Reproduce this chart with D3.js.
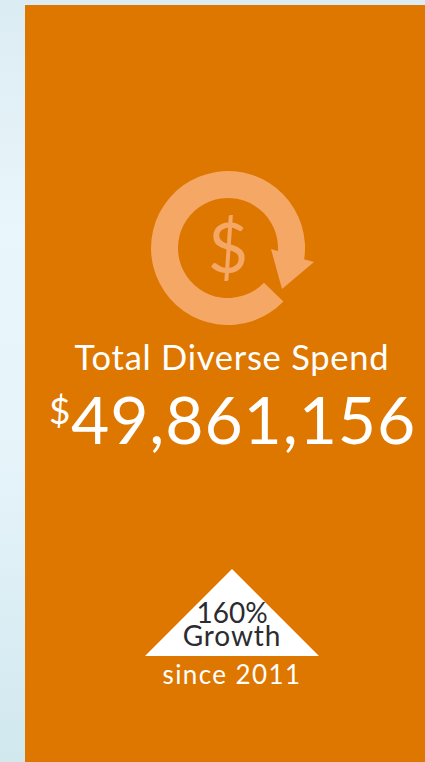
<!DOCTYPE html>
<meta charset="utf-8">
<style>
html, body { margin: 0; padding: 0; background: #e0f0f8; overflow: hidden; }
text { font-family: Lato, "Open Sans", sans-serif; }
</style>
<body>
<svg width="425" height="762"></svg>
<script src="https://d3js.org/d3.v7.min.js"></script>
<script>
var title = ["Total Diverse Spend"];
var totalSpend = [49861156];
var growthPercent = [160];
var growthLabels = ["Growth", "since 2011"];

var svg = d3.select("svg"),
    width = +svg.attr("width"),
    height = +svg.attr("height");

var orange = "#de7700", pale = "#f5a765", dark = "#2c2c30";

// pale blue page behind the panel
var defs = svg.append("defs");
var grad = defs.append("linearGradient").attr("id", "page")
    .attr("x1", 0).attr("y1", 0).attr("x2", 0).attr("y2", 1);
grad.append("stop").attr("offset", "0%").attr("stop-color", "#dcecf3");
grad.append("stop").attr("offset", "30%").attr("stop-color", "#e9f6fb");
grad.append("stop").attr("offset", "60%").attr("stop-color", "#e6f4fa");
grad.append("stop").attr("offset", "100%").attr("stop-color", "#d1e8ef");

svg.append("rect").attr("width", width).attr("height", height).attr("fill", "url(#page)");
svg.append("rect").attr("x", 25).attr("y", 5).attr("width", width - 25).attr("height", height - 5)
    .attr("fill", orange);

// circular arrow icon
var icon = svg.append("g").attr("transform", "translate(228,248)");
var deg = Math.PI / 180;
icon.append("path")
    .attr("d", d3.arc().innerRadius(50).outerRadius(77)
        .startAngle(134 * deg).endAngle(360 * deg + 100 * deg)())
    .attr("fill", pale);
icon.append("path")
    .attr("d", d3.line()([[43, 1], [54, 41], [86, 14], [75, 11]]) + "Z")
    .attr("fill", pale);
icon.append("text")
    .attr("text-anchor", "middle").attr("y", 25)
    .attr("font-size", 70).attr("font-weight", 400).attr("fill", pale)
    .text("$");

// headline
svg.append("text").attr("x", 232).attr("y", 370)
    .attr("text-anchor", "middle").attr("font-size", 34.5).attr("letter-spacing", 0.75)
    .attr("fill", "#fff").text(title[0]);

var amount = svg.append("text").attr("fill", "#fff");
amount.append("tspan").attr("x", 49).attr("y", 424).attr("font-size", 37).text("$");
amount.append("tspan").attr("x", 71).attr("y", 444).attr("font-size", 66).attr("letter-spacing", 0.9)
    .text(d3.format(",")(totalSpend[0]));

// growth triangle
var tri = svg.append("g").attr("transform", "translate(232,0)");
tri.append("path")
    .attr("d", d3.line()([[0, 569], [-87, 656], [87, 656]]) + "Z")
    .attr("fill", "#fff");
var growth = tri.append("text").attr("text-anchor", "middle")
    .attr("font-size", 28).attr("fill", dark);
growth.append("tspan").attr("x", 0).attr("y", 623).text(growthPercent[0] + "%");
growth.append("tspan").attr("x", 0).attr("y", 646).attr("letter-spacing", 0.9).text(growthLabels[0]);
tri.append("text").attr("y", 684).attr("text-anchor", "middle")
    .attr("font-size", 26).attr("letter-spacing", 1.4).attr("fill", "#fff")
    .text(growthLabels[1]);
</script>
</body>
